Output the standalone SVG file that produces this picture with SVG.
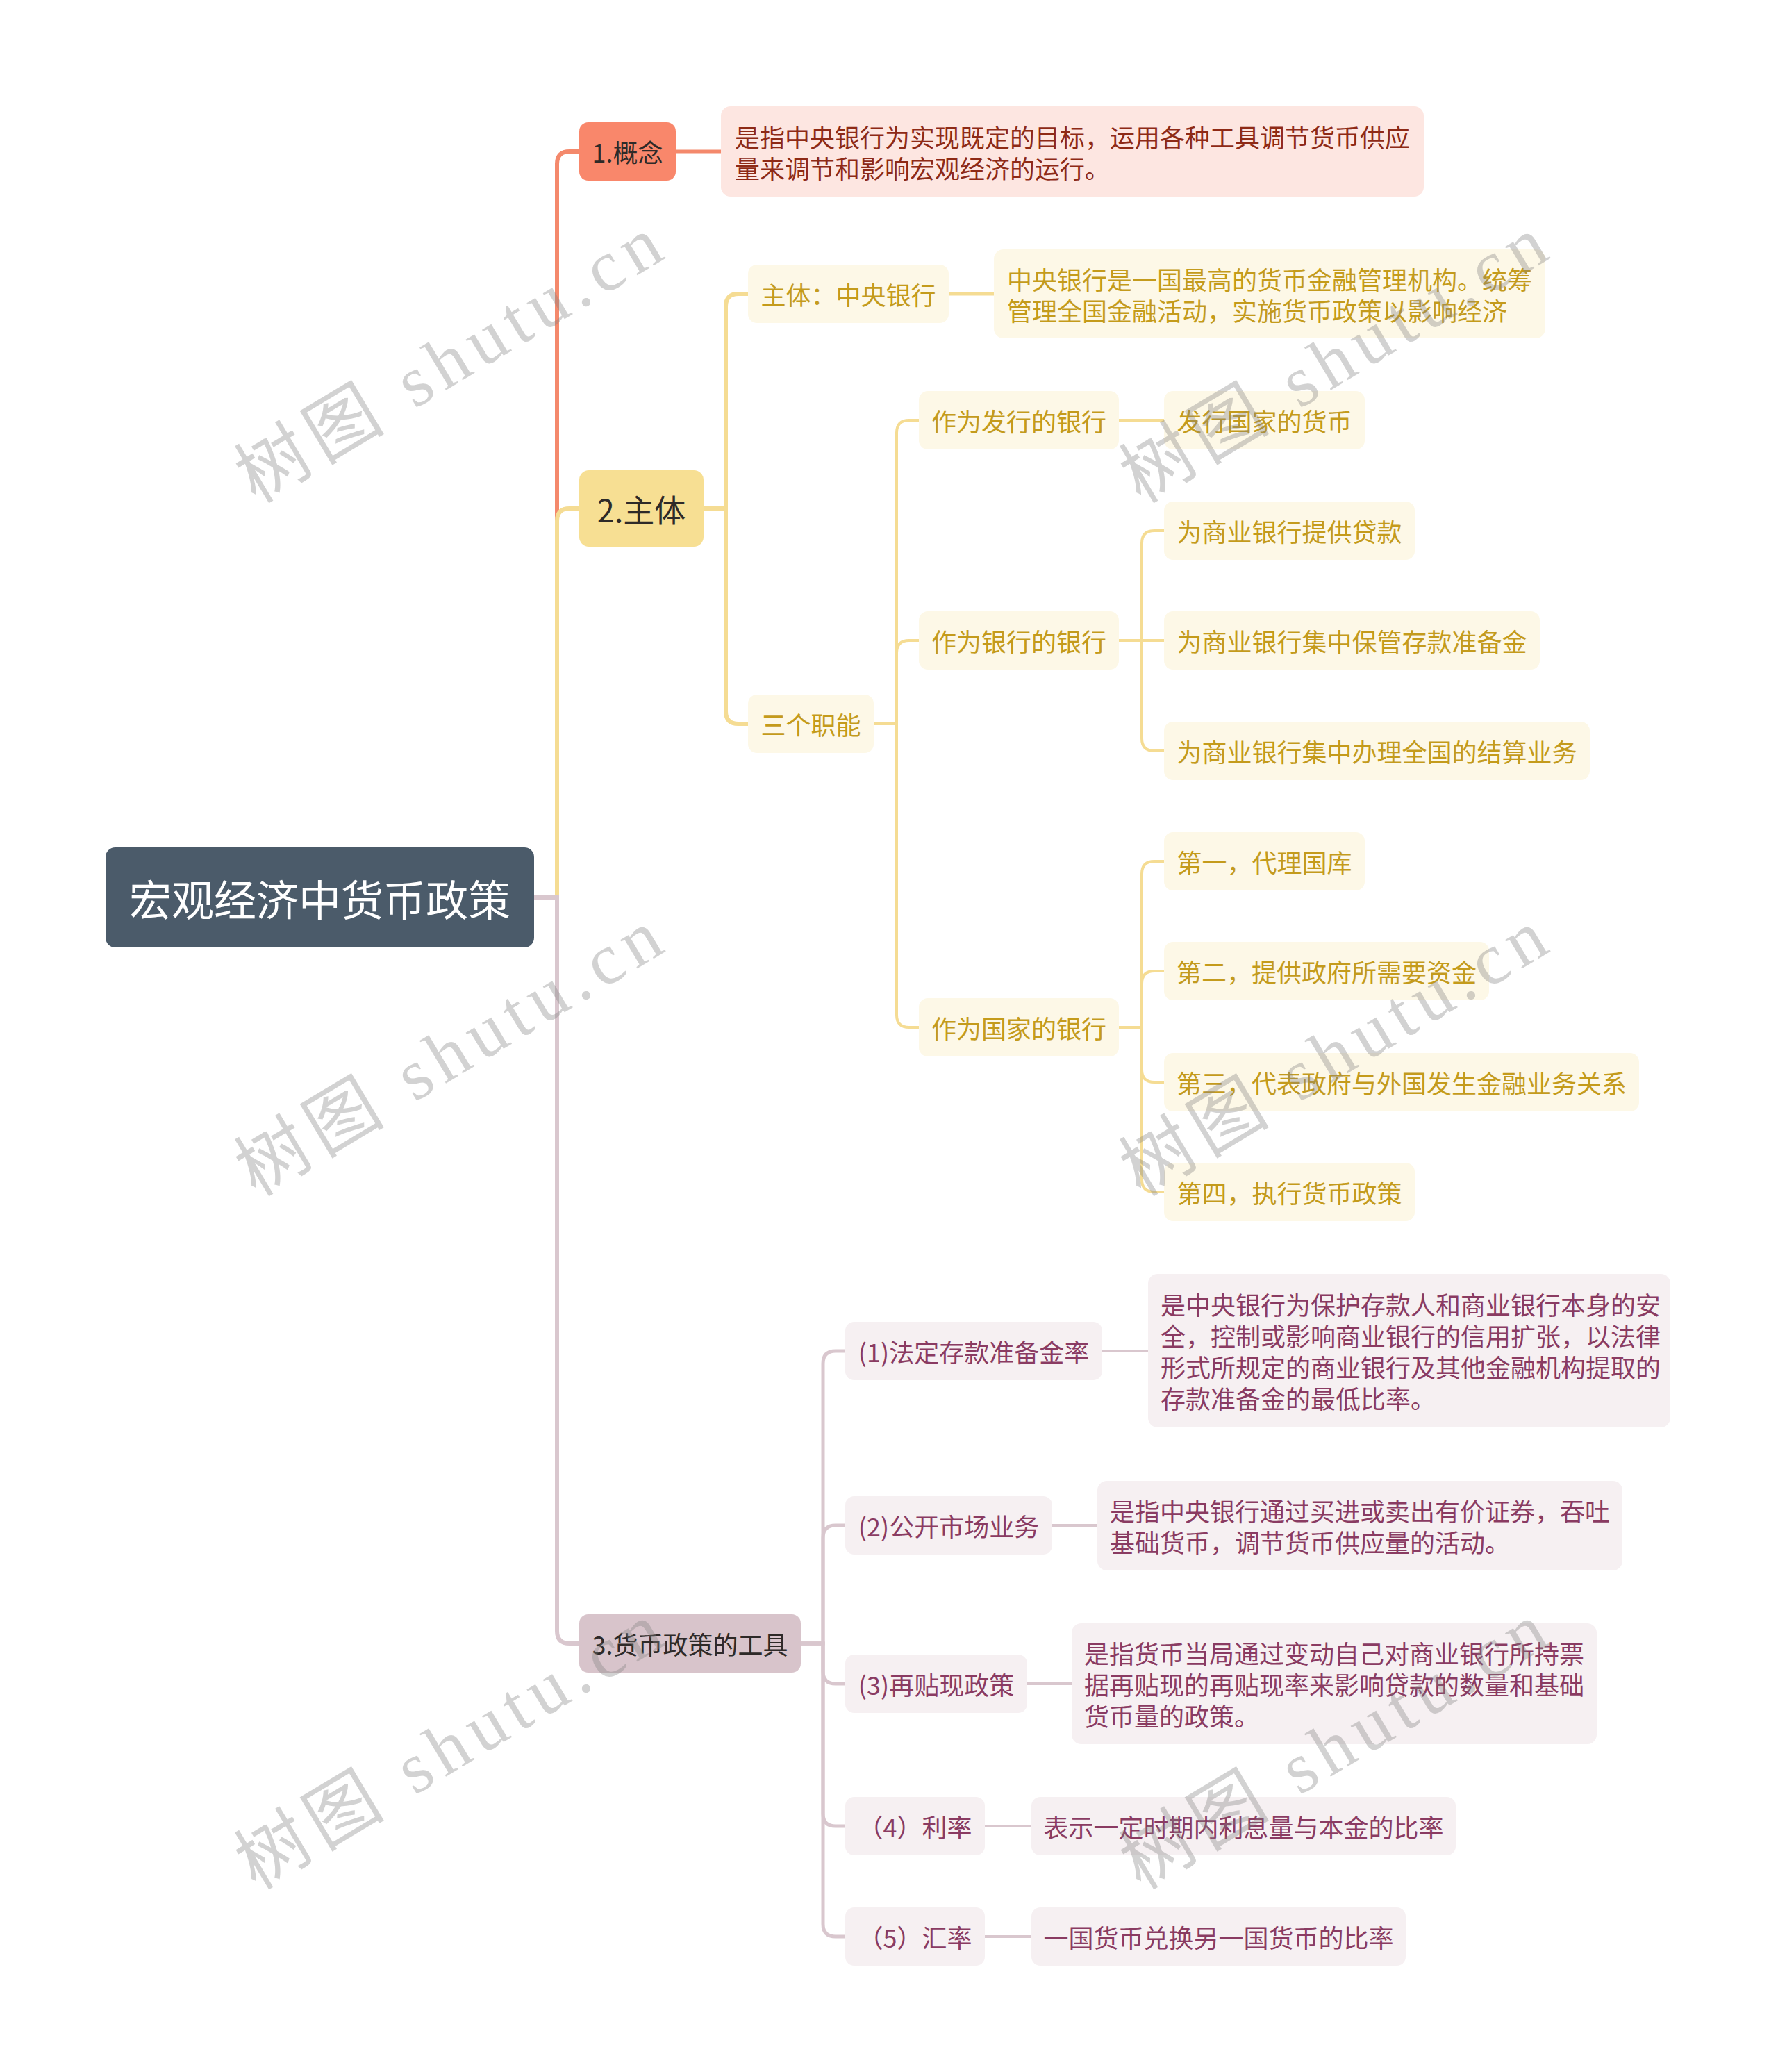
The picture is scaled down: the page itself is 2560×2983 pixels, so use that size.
<svg xmlns="http://www.w3.org/2000/svg" width="2560" height="2983" viewBox="0 0 2560 2983">
<style>
text{font-family:"Noto Sans CJK SC","Noto Sans",sans-serif;dominant-baseline:central}
.c{text-anchor:middle}
.l{text-anchor:start}
.root rect{fill:#4b5b6a}
.root text{fill:#ffffff;font-size:61px}
.n1r rect{fill:#f9876b}
.n1y rect{fill:#f7df93}
.n1p rect{fill:#d8c4cb}
.n1 text{fill:#2e2a28;font-size:36px}
.big text{font-size:45px}
.dr rect{fill:#fde6e1}
.dr text{fill:#8e2a16;font-size:36px}
.sy rect{fill:#fdf8e7}
.sy text{fill:#c49b1c;font-size:36px}
.sp rect{fill:#f6f0f2}
.sp text{fill:#8a3b62;font-size:36px}
.lr{fill:none;stroke:#f4896c;stroke-linecap:butt}
.ly{fill:none;stroke:#f5dc93}
.lp{fill:none;stroke:#d9c7ce}
.w6{stroke-width:6}
.w5{stroke-width:5}
.w4{stroke-width:4}
.wm{font-family:"Liberation Serif","Noto Sans CJK SC",serif;font-size:104px;fill:#808080;opacity:0.35;text-anchor:middle}
</style>
<rect width="2560" height="2983" fill="#ffffff"/>

<g id="connectors">
  <path class="lr w6" d="M769,1292 H802 V236 Q802,218 820,218 H834"/>
  <path class="ly w6" d="M769,1292 H802 V750 Q802,732 820,732 H834"/>
  <path class="lp w6" d="M769,1292 H802 V2348 Q802,2366 820,2366 H834"/>
  <path class="lr w5" d="M973,218 H1038"/>
  <path class="ly w6" d="M1013,732 H1045 V441 Q1045,423 1063,423 H1077"/>
  <path class="ly w6" d="M1013,732 H1045 V1024 Q1045,1042 1063,1042 H1077"/>
  <path class="ly w5" d="M1366,423 H1431"/>
  <path class="ly w4" d="M1258,1042 H1291 V623 Q1291,605 1309,605 H1323"/>
  <path class="ly w4" d="M1258,1042 H1291 V940 Q1291,922 1309,922 H1323"/>
  <path class="ly w4" d="M1258,1042 H1291 V1461 Q1291,1479 1309,1479 H1323"/>
  <path class="ly w4" d="M1611,605 H1676"/>
  <path class="ly w4" d="M1611,922 H1644 V782 Q1644,764 1662,764 H1676"/>
  <path class="ly w4" d="M1611,922 H1676"/>
  <path class="ly w4" d="M1611,922 H1644 V1063 Q1644,1081 1662,1081 H1676"/>
  <path class="ly w4" d="M1611,1479 H1644 V1258 Q1644,1240 1662,1240 H1676"/>
  <path class="ly w4" d="M1611,1479 H1644 V1416 Q1644,1398 1662,1398 H1676"/>
  <path class="ly w4" d="M1611,1479 H1644 V1540 Q1644,1558 1662,1558 H1676"/>
  <path class="ly w4" d="M1611,1479 H1644 V1698 Q1644,1716 1662,1716 H1676"/>
  <path class="lp w5" d="M1153,2366 H1185 V1963 Q1185,1945 1203,1945 H1217"/>
  <path class="lp w5" d="M1153,2366 H1185 V2214 Q1185,2196 1203,2196 H1217"/>
  <path class="lp w5" d="M1153,2366 H1185 V2406 Q1185,2424 1203,2424 H1217"/>
  <path class="lp w5" d="M1153,2366 H1185 V2611 Q1185,2629 1203,2629 H1217"/>
  <path class="lp w5" d="M1153,2366 H1185 V2770 Q1185,2788 1203,2788 H1217"/>
  <path class="lp w4" d="M1587,1945 H1653"/>
  <path class="lp w4" d="M1515,2196 H1580"/>
  <path class="lp w4" d="M1479,2424 H1543"/>
  <path class="lp w4" d="M1418,2629 H1485"/>
  <path class="lp w4" d="M1418,2788 H1485"/>
</g>

<g id="root" class="root">
  <rect x="152" y="1220" width="617" height="144" rx="14"/>
  <text class="c" x="460.5" y="1292">宏观经济中货币政策</text>
</g>

<g id="n-gainian" class="n1 n1r">
  <rect x="834" y="176" width="139" height="84" rx="13"/>
  <text class="c" x="903.5" y="218">1.概念</text>
</g>
<g id="n-gainian-def" class="dr">
  <rect x="1038" y="153" width="1012" height="130" rx="14"/>
  <text class="l" x="1058" y="196">是指中央银行为实现既定的目标，运用各种工具调节货币供应</text>
  <text class="l" x="1058" y="241">量来调节和影响宏观经济的运行。</text>
</g>

<g id="n-zhuti" class="n1 n1y big">
  <rect x="834" y="677" width="179" height="110" rx="14"/>
  <text class="c" x="923.5" y="732">2.主体</text>
</g>
<g id="n-zhongyang" class="sy">
  <rect x="1077" y="381" width="289" height="84" rx="13"/>
  <text class="c" x="1221.5" y="423">主体：中央银行</text>
</g>
<g id="n-zhongyang-def" class="sy">
  <rect x="1431" y="359" width="794" height="128" rx="14"/>
  <text class="l" x="1450" y="400.5">中央银行是一国最高的货币金融管理机构。统筹</text>
  <text class="l" x="1450" y="445.5">管理全国金融活动，实施货币政策以影响经济</text>
</g>
<g id="n-sange" class="sy">
  <rect x="1077" y="1000" width="181" height="84" rx="13"/>
  <text class="c" x="1167.5" y="1042">三个职能</text>
</g>
<g id="n-faxing" class="sy">
  <rect x="1323" y="563" width="288" height="84" rx="13"/>
  <text class="c" x="1467" y="605">作为发行的银行</text>
</g>
<g id="n-faxing-1" class="sy">
  <rect x="1676" y="563" width="289" height="84" rx="13"/>
  <text class="c" x="1820.5" y="605">发行国家的货币</text>
</g>
<g id="n-yinhang" class="sy">
  <rect x="1323" y="880" width="288" height="84" rx="13"/>
  <text class="c" x="1467" y="922">作为银行的银行</text>
</g>
<g id="n-yinhang-1" class="sy">
  <rect x="1676" y="722" width="361" height="84" rx="13"/>
  <text class="c" x="1856.5" y="764">为商业银行提供贷款</text>
</g>
<g id="n-yinhang-2" class="sy">
  <rect x="1676" y="880" width="541" height="84" rx="13"/>
  <text class="c" x="1946.5" y="922">为商业银行集中保管存款准备金</text>
</g>
<g id="n-yinhang-3" class="sy">
  <rect x="1676" y="1039" width="613" height="84" rx="13"/>
  <text class="c" x="1982.5" y="1081">为商业银行集中办理全国的结算业务</text>
</g>
<g id="n-guojia" class="sy">
  <rect x="1323" y="1437" width="288" height="84" rx="13"/>
  <text class="c" x="1467" y="1479">作为国家的银行</text>
</g>
<g id="n-guojia-1" class="sy">
  <rect x="1676" y="1198" width="289" height="84" rx="13"/>
  <text class="c" x="1820.5" y="1240">第一，代理国库</text>
</g>
<g id="n-guojia-2" class="sy">
  <rect x="1676" y="1356" width="468" height="84" rx="13"/>
  <text class="c" x="1910" y="1398">第二，提供政府所需要资金</text>
</g>
<g id="n-guojia-3" class="sy">
  <rect x="1676" y="1516" width="684" height="84" rx="13"/>
  <text class="c" x="2018" y="1558">第三，代表政府与外国发生金融业务关系</text>
</g>
<g id="n-guojia-4" class="sy">
  <rect x="1676" y="1674" width="361" height="84" rx="13"/>
  <text class="c" x="1856.5" y="1716">第四，执行货币政策</text>
</g>

<g id="n-gongju" class="n1 n1p">
  <rect x="834" y="2324" width="319" height="84" rx="13"/>
  <text class="c" x="993.5" y="2366">3.货币政策的工具</text>
</g>
<g id="n-t1" class="sp">
  <rect x="1217" y="1903" width="370" height="84" rx="13"/>
  <text class="c" x="1402" y="1945">(1)法定存款准备金率</text>
</g>
<g id="n-t1-def" class="sp">
  <rect x="1653" y="1834" width="752" height="221" rx="14"/>
  <text class="l" x="1671" y="1877">是中央银行为保护存款人和商业银行本身的安</text>
  <text class="l" x="1671" y="1922">全，控制或影响商业银行的信用扩张，以法律</text>
  <text class="l" x="1671" y="1967">形式所规定的商业银行及其他金融机构提取的</text>
  <text class="l" x="1671" y="2012">存款准备金的最低比率。</text>
</g>
<g id="n-t2" class="sp">
  <rect x="1217" y="2154" width="298" height="84" rx="13"/>
  <text class="c" x="1366" y="2196">(2)公开市场业务</text>
</g>
<g id="n-t2-def" class="sp">
  <rect x="1580" y="2132" width="756" height="129" rx="14"/>
  <text class="l" x="1598" y="2174">是指中央银行通过买进或卖出有价证券，吞吐</text>
  <text class="l" x="1598" y="2219">基础货币，调节货币供应量的活动。</text>
</g>
<g id="n-t3" class="sp">
  <rect x="1217" y="2382" width="262" height="84" rx="13"/>
  <text class="c" x="1348" y="2424">(3)再贴现政策</text>
</g>
<g id="n-t3-def" class="sp">
  <rect x="1543" y="2337" width="756" height="174" rx="14"/>
  <text class="l" x="1561" y="2379">是指货币当局通过变动自己对商业银行所持票</text>
  <text class="l" x="1561" y="2424">据再贴现的再贴现率来影响贷款的数量和基础</text>
  <text class="l" x="1561" y="2469">货币量的政策。</text>
</g>
<g id="n-t4" class="sp">
  <rect x="1217" y="2587" width="201" height="84" rx="13"/>
  <text class="c" x="1317.5" y="2629">（4）利率</text>
</g>
<g id="n-t4-def" class="sp">
  <rect x="1485" y="2587" width="611" height="84" rx="13"/>
  <text class="c" x="1790.5" y="2629">表示一定时期内利息量与本金的比率</text>
</g>
<g id="n-t5" class="sp">
  <rect x="1217" y="2746" width="201" height="84" rx="13"/>
  <text class="c" x="1317.5" y="2788">（5）汇率</text>
</g>
<g id="n-t5-def" class="sp">
  <rect x="1485" y="2746" width="539" height="84" rx="13"/>
  <text class="c" x="1754.5" y="2788">一国货币兑换另一国货币的比率</text>
</g>

<g id="watermarks">
  <text class="wm" transform="translate(646,518) rotate(-31)" textLength="690" lengthAdjust="spacing">树图 shutu.cn</text>
  <text class="wm" transform="translate(1920,518) rotate(-31)" textLength="690" lengthAdjust="spacing">树图 shutu.cn</text>
  <text class="wm" transform="translate(646,1516) rotate(-31)" textLength="690" lengthAdjust="spacing">树图 shutu.cn</text>
  <text class="wm" transform="translate(1920,1516) rotate(-31)" textLength="690" lengthAdjust="spacing">树图 shutu.cn</text>
  <text class="wm" transform="translate(646,2514) rotate(-31)" textLength="690" lengthAdjust="spacing">树图 shutu.cn</text>
  <text class="wm" transform="translate(1920,2514) rotate(-31)" textLength="690" lengthAdjust="spacing">树图 shutu.cn</text>
</g>
</svg>
